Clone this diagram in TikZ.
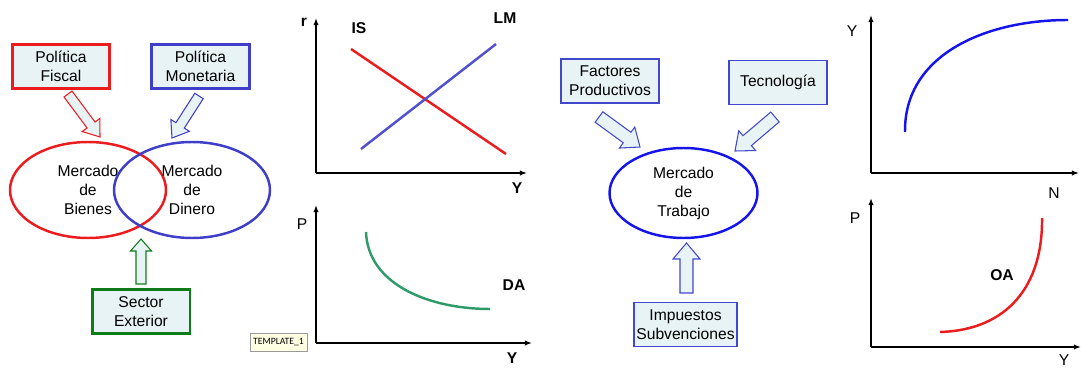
\documentclass[tikz,border=0pt]{standalone}
\usepackage{fontspec}
\setmainfont{Liberation Sans}
\newfontfamily\tagfont{Carlito}
\usepackage{tikz}
\usetikzlibrary{positioning,arrows.meta,shapes.geometric,calc}
\definecolor{FiscalRed}{RGB}{236,28,30}
\definecolor{MoneyBlue}{RGB}{62,62,200}
\definecolor{ExtGreen}{RGB}{14,125,24}
\definecolor{BoxFill}{RGB}{232,243,246}
\definecolor{LaborBlue}{RGB}{66,72,204}
\definecolor{PureBlue}{RGB}{20,20,235}
\definecolor{DAGreen}{RGB}{46,155,105}
\definecolor{TagFill}{RGB}{255,255,228}
\newcommand\diagfont{\fontsize{8.9}{10.8}\selectfont}
% #1 style, #2 tail, #3 tip, #4 half shaft, #5 half head, #6 head length (px)
\newcommand\blockarrow[6][]{%
  \coordinate (ba-base) at ($(#3)!#6*0.2mm!(#2)$);
  \draw[#1] ($(#2)!#4*0.2mm!90:(#3)$) -- ($(ba-base)!#4*0.2mm!-90:(#2)$)
    -- ($(ba-base)!#5*0.2mm!-90:(#2)$) -- (#3)
    -- ($(ba-base)!#5*0.2mm!90:(#2)$) -- ($(ba-base)!#4*0.2mm!90:(#2)$)
    -- ($(#2)!#4*0.2mm!-90:(#3)$) -- cycle;}

\begin{document}
\begin{tikzpicture}[
    x=0.02cm, y=-0.02cm,
    box/.style={rectangle, draw, fill=BoxFill, line width=1.7pt,
        minimum width=1.96cm, minimum height=0.88cm, inner sep=1pt,
        align=center, font=\diagfont},
    labbox/.style={box, line width=1.1pt, draw=LaborBlue},
    market/.style={ellipse, draw, line width=1.4pt, minimum width=3.12cm,
        minimum height=1.92cm, inner sep=0pt, align=center, font=\diagfont},
    feed/.style={fill=BoxFill, line width=0.6pt, line join=miter},
    axis/.style={-{Latex[length=4pt, width=3pt]}, line width=0.8pt},
    curve/.style={line width=1.4pt},
    axlbl/.style={font=\diagfont},
    curvelbl/.style={font=\diagfont\bfseries},
    tag/.style={draw=gray!80, fill=TagFill, inner sep=1pt, minimum width=1.14cm,
        minimum height=0.36cm, font=\tagfont\fontsize{5.5}{6}\selectfont},
]
\useasboundingbox (0,0) rectangle (1081,368);

% goods and money markets
\node[market, draw=FiscalRed] (bienes) at (88,190) {Mercado\\de\\Bienes};
\node[market, draw=MoneyBlue] (dinero) at (192,190) {Mercado\\de\\Dinero};
\node[box, draw=FiscalRed] (fiscal) at (61,66.5) {Política\\Fiscal};
\node[box, draw=MoneyBlue] (monetaria) at (200.5,66.5) {Política\\Monetaria};
\node[box, draw=ExtGreen] (exterior) at (141,311.5) {Sector\\Exterior};
\coordinate (fiscal-t) at (68,94);
\coordinate (fiscal-h) at (100,137);
\coordinate (monetaria-t) at (199,96);
\coordinate (monetaria-h) at (172,138);
\coordinate (exterior-t) at (141,284);
\coordinate (exterior-h) at (141,239);
\blockarrow[feed, draw=FiscalRed]{fiscal-t}{fiscal-h}{5}{11}{15}
\blockarrow[feed, draw=MoneyBlue]{monetaria-t}{monetaria-h}{5}{11}{15}
\blockarrow[feed, draw=ExtGreen]{exterior-t}{exterior-h}{5}{10.5}{12}
\node[tag] (template) at (278.5,342) {TEMPLATE\_1};

% IS-LM
\coordinate (islm-o) at (316,173);
\coordinate (islm-r) at (316,18);
\coordinate (islm-y) at (527,173);
\draw[axis] (islm-o) -- (islm-r);
\draw[axis] (islm-o) -- (islm-y);
\coordinate (is-a) at (351,49);
\coordinate (is-b) at (506,154);
\coordinate (lm-a) at (361,149);
\coordinate (lm-b) at (496,44);
\draw[curve, FiscalRed] (is-a) -- (is-b);
\draw[curve, MoneyBlue!90!white] (lm-a) -- (lm-b);
\node[curvelbl] (lbl-r) at (304,22) {r};
\node[curvelbl] (lbl-is) at (359,28) {IS};
\node[curvelbl] (lbl-lm) at (505,18) {LM};
\node[curvelbl] (lbl-y1) at (517,188) {Y};

% DA
\coordinate (da-o) at (316,343);
\coordinate (da-p) at (316,205);
\coordinate (da-y) at (532,343);
\draw[axis] (da-o) -- (da-p);
\draw[axis] (da-o) -- (da-y);
\coordinate (da-a) at (366,232);
\coordinate (da-b) at (490,309);
\draw[curve, DAGreen] (da-a) .. controls (368,285) and (430,309) .. (da-b);
\node[axlbl] (lbl-p1) at (302,224) {P};
\node[curvelbl] (lbl-da) at (514,285) {DA};
\node[curvelbl] (lbl-y2) at (512,358) {Y};

% labour market
\node[market, draw=PureBlue, minimum width=2.96cm,
    minimum height=1.8cm] (trabajo) at (683.5,193) {Mercado\\de\\Trabajo};
\node[labbox] (factores) at (610,81) {Factores\\Productivos};
\node[labbox] (tecnologia) at (778,82.5) {Tecnología};
\node[labbox, minimum width=2.06cm] (impuestos) at (685.5,324.5) {Impuestos\\Subvenciones};
\coordinate (factores-t) at (599,117);
\coordinate (factores-h) at (640,147);
\coordinate (tecnologia-t) at (775,117);
\coordinate (tecnologia-h) at (735,151);
\coordinate (impuestos-t) at (686.5,293);
\coordinate (impuestos-h) at (686.5,243);
\blockarrow[feed, draw=LaborBlue]{factores-t}{factores-h}{6.5}{13}{16}
\blockarrow[feed, draw=LaborBlue]{tecnologia-t}{tecnologia-h}{6.5}{13}{16}
\blockarrow[feed, draw=LaborBlue]{impuestos-t}{impuestos-h}{6.5}{13.5}{16}

% production function
\coordinate (pf-o) at (871,173);
\coordinate (pf-y) at (871,15);
\coordinate (pf-n) at (1079,173);
\draw[axis] (pf-o) -- (pf-y);
\draw[axis] (pf-o) -- (pf-n);
\coordinate (pf-a) at (905,132);
\coordinate (pf-b) at (1068,20);
\draw[curve, PureBlue] (pf-a) .. controls (904,55) and (985,20) .. (pf-b);
\node[axlbl] (lbl-y3) at (852,31) {Y};
\node[axlbl] (lbl-n) at (1054,193) {N};

% OA
\coordinate (oa-o) at (871,347);
\coordinate (oa-p) at (871,198);
\coordinate (oa-y) at (1081,347);
\draw[axis] (oa-o) -- (oa-p);
\draw[axis] (oa-o) -- (oa-y);
\coordinate (oa-a) at (940,332);
\coordinate (oa-b) at (1042,218);
\draw[curve, FiscalRed] (oa-a) .. controls (1008,330) and (1043,285) .. (oa-b);
\node[axlbl] (lbl-p2) at (855,218) {P};
\node[curvelbl] (lbl-oa) at (1002,275) {OA};
\node[axlbl] (lbl-y4) at (1064,360) {Y};
\end{tikzpicture}
\end{document}
